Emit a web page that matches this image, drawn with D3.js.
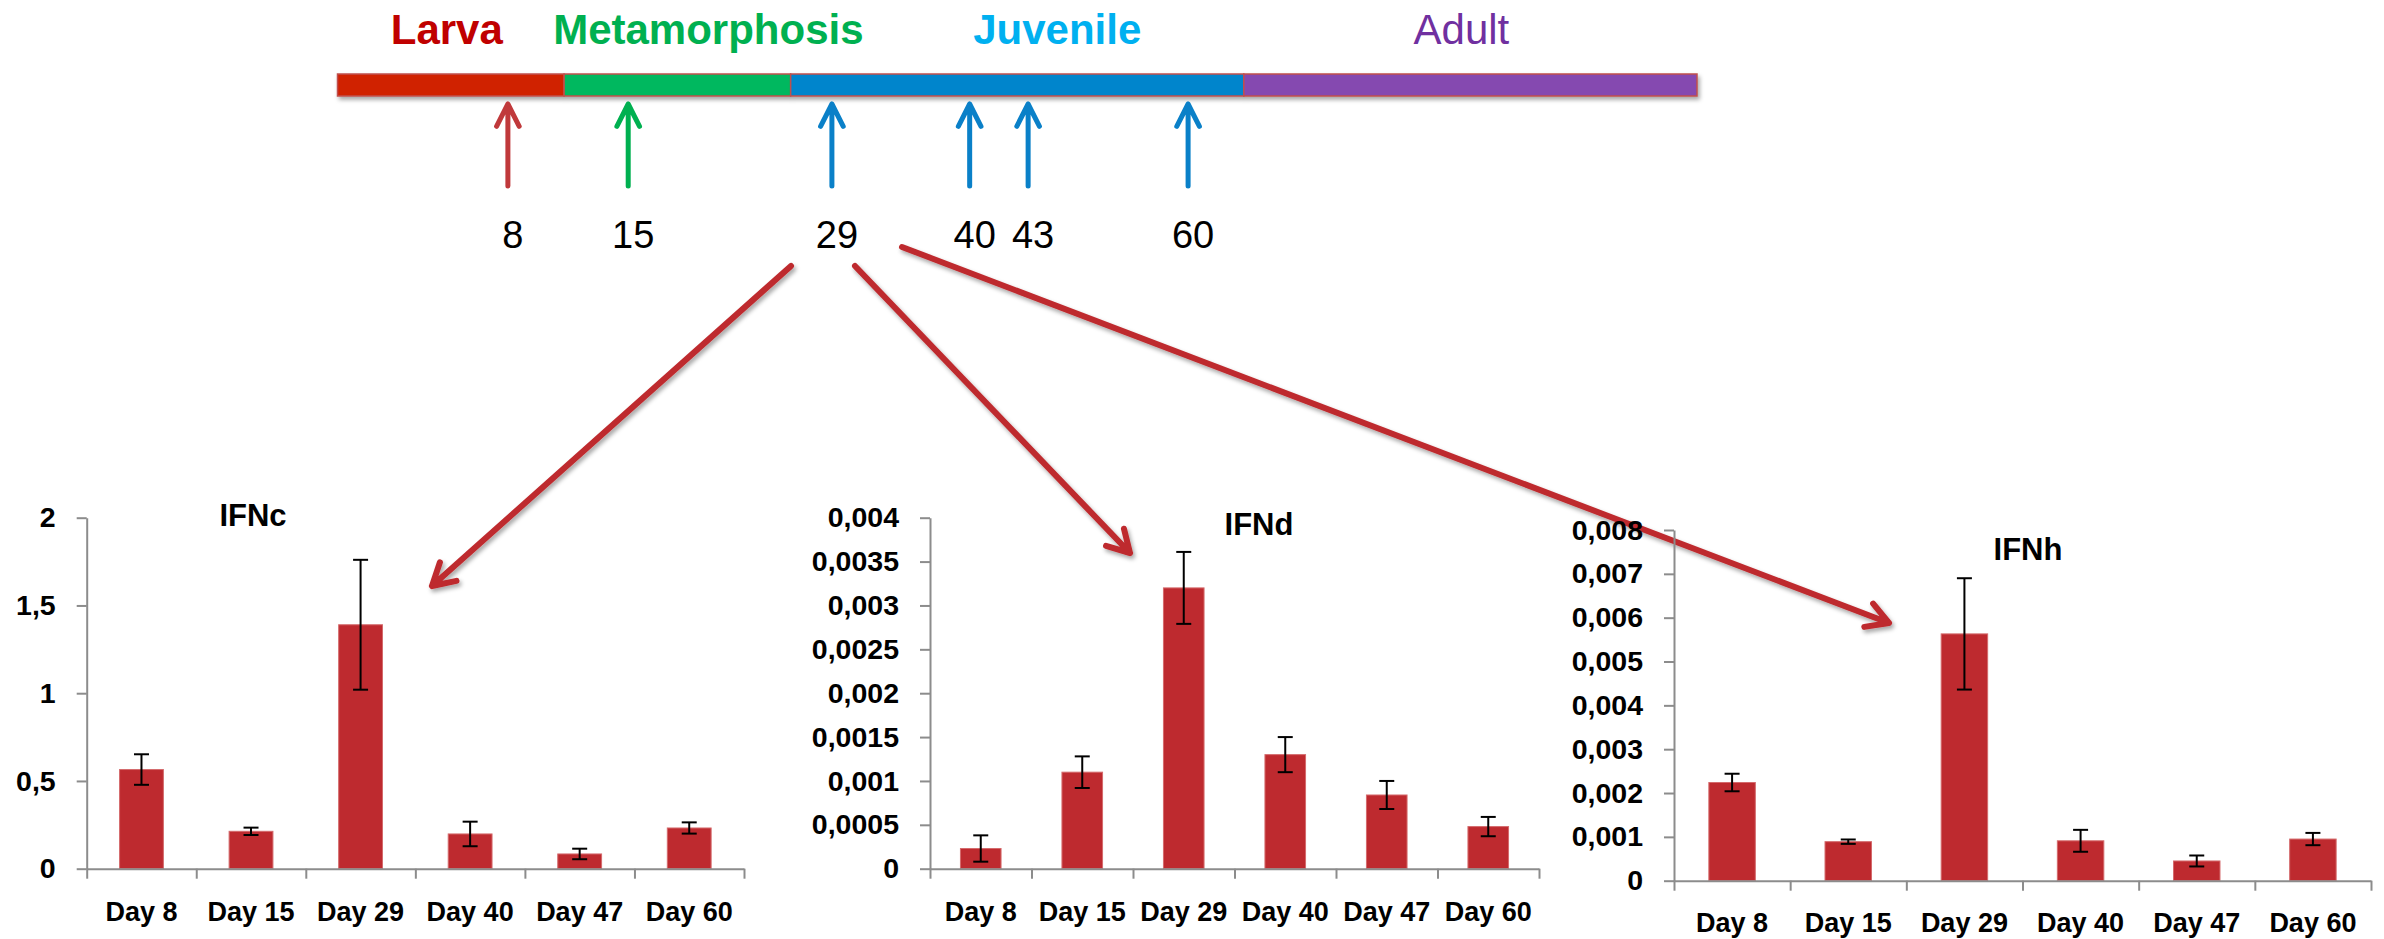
<!DOCTYPE html>
<html><head><meta charset="utf-8">
<script src="https://cdn.jsdelivr.net/npm/d3@7"></script>
<style>body{margin:0;background:#fff}svg{display:block}</style>
</head><body><svg id="c" width="2384" height="939"></svg>
<script>
// ---------------- data ----------------
const categories = ["Day 8","Day 15","Day 29","Day 40","Day 47","Day 60"];
const ifncValues = [0.565, 0.213, 1.39, 0.198, 0.084, 0.232];
const ifncErrors = [0.087, 0.021, 0.37, 0.07, 0.03, 0.032];
const ifndValues = [0.00023, 0.0011, 0.0032, 0.0013, 0.00084, 0.00048];
const ifndErrors = [0.00015, 0.00018, 0.00041, 0.0002, 0.00016, 0.00011];
const ifnhValues = [0.00224, 0.00089, 0.00563, 0.00091, 0.00045, 0.00095];
const ifnhErrors = [0.0002, 0.00005, 0.00127, 0.00025, 0.000125, 0.00014];
const ifncTicks = [0, 0.5, 1, 1.5, 2];
const ifndTicks = [0, 0.0005, 0.001, 0.0015, 0.002, 0.0025, 0.003, 0.0035, 0.004];
const ifnhTicks = [0, 0.001, 0.002, 0.003, 0.004, 0.005, 0.006, 0.007, 0.008];
const chartTitles = ["IFNc", "IFNd", "IFNh"];
const stages = ["Larva", "Metamorphosis", "Juvenile", "Adult"];
const stageSpan = [1, 1, 2, 2];               // schematic length of each stage (sixths)
const sampleDays = [8, 15, 29, 40, 43, 60];
const sampleDayPos = [0.752, 1.283, 2.182, 2.79, 3.048, 3.754]; // schematic position on the timeline
const sampleStage = [0, 1, 2, 2, 2, 2];

// ---------------- style / layout ----------------
const stageBarColors = ["#D02000", "#00B85E", "#0085CC", "#8549B0"];
const stageTextColors = ["#C00000", "#00B050", "#00B0F0", "#7030A0"];
const stageTextWeight = ["bold", "bold", "bold", "normal"];
const stageTextSize = [42, 42, 42, 42];
const stageTextShift = [-4, 31, 40, -9];
const arrowColors = ["#C0393B", "#00B050", "#0A80C8"];
const barColor = "#BE2A2F";
const axisColor = "#8C8C8C";
const font = "'Liberation Sans', Arial, sans-serif";

const svg = d3.select("#c");
const defs = svg.append("defs");
const sh = defs.append("filter").attr("id", "shadow").attr("x", "-20%").attr("y", "-20%").attr("width", "140%").attr("height", "160%");
sh.append("feDropShadow").attr("dx", 2).attr("dy", 3).attr("stdDeviation", 2).attr("flood-color", "#000").attr("flood-opacity", 0.35);

// ---------------- timeline ----------------
const tl = d3.scaleLinear().domain([0, 6]).range([337.5, 1697]);
const starts = d3.cumsum([0, ...stageSpan]);
const tg = svg.append("g");
tg.append("g").attr("filter", "url(#shadow)")
  .selectAll("rect").data(stages).join("rect")
  .attr("x", (d, i) => tl(starts[i])).attr("y", 74)
  .attr("width", (d, i) => tl(starts[i] + stageSpan[i]) - tl(starts[i])).attr("height", 22)
  .attr("fill", (d, i) => stageBarColors[i])
  .attr("stroke", "#C0504D").attr("stroke-width", 1.5);

tg.selectAll("text.stage").data(stages).join("text").attr("class", "stage")
  .attr("x", (d, i) => tl(starts[i] + stageSpan[i] / 2) + stageTextShift[i])
  .attr("y", 44)
  .attr("text-anchor", "middle")
  .attr("font-family", font)
  .attr("font-size", (d, i) => stageTextSize[i])
  .attr("font-weight", (d, i) => stageTextWeight[i])
  .attr("fill", (d, i) => stageTextColors[i])
  .text(d => d);

function openArrow(g, x1, y1, x2, y2, color, w, headLen, headAng) {
  const a = Math.atan2(y1 - y2, x1 - x2);
  const p = d3.path();
  p.moveTo(x1, y1); p.lineTo(x2, y2);
  p.moveTo(x2 + headLen * Math.cos(a + headAng), y2 + headLen * Math.sin(a + headAng));
  p.lineTo(x2, y2);
  p.lineTo(x2 + headLen * Math.cos(a - headAng), y2 + headLen * Math.sin(a - headAng));
  g.append("path").attr("d", p.toString()).attr("fill", "none")
    .attr("stroke", color).attr("stroke-width", w)
    .attr("stroke-linecap", "round").attr("stroke-linejoin", "round");
}

sampleDays.forEach((d, i) => {
  const x = tl(sampleDayPos[i]);
  openArrow(tg, x, 186, x, 104, arrowColors[Math.min(sampleStage[i], 2)], 5, 25, 0.47);
  tg.append("text").attr("x", x + 5).attr("y", 248).attr("text-anchor", "middle")
    .attr("font-family", font).attr("font-size", 38).attr("fill", "#000").text(d);
});

// big annotation arrows from day 29 to each chart
const bigArrows = [[791, 266, 432, 586], [855, 266, 1130, 553], [902, 247, 1889, 623]];
const ag = svg.append("g").attr("filter", "url(#shadow)");
bigArrows.forEach(a => openArrow(ag, a[0], a[1], a[2], a[3], "#BE2A2E", 6, 25, 0.52));

// ---------------- bar charts ----------------
const fmt = v => String(+v.toFixed(6)).replace(".", ",");
const charts = [
  {values: ifncValues, errors: ifncErrors, ticks: ifncTicks, title: chartTitles[0],
   x0: 86.7, x1: 744, yTop: 517.7, yZero: 868.7, tx: 253, ty: 526, lab: 52},
  {values: ifndValues, errors: ifndErrors, ticks: ifndTicks, title: chartTitles[1],
   x0: 930, x1: 1539, yTop: 517.7, yZero: 868.7, tx: 1259, ty: 535, lab: 52},
  {values: ifnhValues, errors: ifnhErrors, ticks: ifnhTicks, title: chartTitles[2],
   x0: 1674, x1: 2371, yTop: 530, yZero: 880.7, tx: 2028, ty: 560, lab: 51.5}
];

charts.forEach(c => {
  const g = svg.append("g");
  const y = d3.scaleLinear().domain([0, d3.max(c.ticks)]).range([c.yZero, c.yTop]);
  const x = d3.scaleBand().domain(categories).range([c.x0, c.x1]).paddingInner(0.6).paddingOuter(0.3);
  const xb = d3.scaleLinear().domain([0, categories.length]).range([c.x0, c.x1]);

  // bars
  g.selectAll("rect.bar").data(c.values).join("rect").attr("class", "bar")
    .attr("x", (d, i) => x(categories[i])).attr("width", x.bandwidth())
    .attr("y", d => y(d)).attr("height", d => y(0) - y(d))
    .attr("fill", barColor).attr("stroke", "#D46A6C").attr("stroke-width", 1);

  // y axis
  const ya = g.append("g").attr("transform", `translate(${c.x0},0)`)
    .call(d3.axisLeft(y).tickValues(c.ticks).tickSize(10).tickSizeOuter(0).tickPadding(21).tickFormat(fmt));
  // x axis (category boundaries)
  const xa = g.append("g").attr("transform", `translate(0,${c.yZero})`)
    .call(d3.axisBottom(xb).tickValues(d3.range(categories.length + 1)).tickSize(10).tickSizeOuter(0).tickFormat(""));
  [ya, xa].forEach(a => {
    a.select(".domain").attr("stroke", axisColor).attr("stroke-width", 2);
    a.selectAll(".tick line").attr("stroke", axisColor).attr("stroke-width", 2);
  });
  ya.selectAll(".tick text").attr("font-family", font).attr("font-size", 28.5)
    .attr("font-weight", "bold").attr("fill", "#000");

  // x labels
  g.selectAll("text.xl").data(categories).join("text").attr("class", "xl")
    .attr("x", d => x(d) + x.bandwidth() / 2).attr("y", c.yZero + c.lab)
    .attr("text-anchor", "middle").attr("font-family", font).attr("font-size", 27)
    .attr("font-weight", "bold").attr("fill", "#000").text(d => d);

  // error bars
  const eb = g.append("g").attr("stroke", "#000").attr("stroke-width", 2);
  c.values.forEach((v, i) => {
    const cx = x(categories[i]) + x.bandwidth() / 2;
    const yh = y(v + c.errors[i]), yl = y(v - c.errors[i]);
    eb.append("line").attr("x1", cx).attr("x2", cx).attr("y1", yh).attr("y2", yl);
    eb.append("line").attr("x1", cx - 7.5).attr("x2", cx + 7.5).attr("y1", yh).attr("y2", yh);
    eb.append("line").attr("x1", cx - 7.5).attr("x2", cx + 7.5).attr("y1", yl).attr("y2", yl);
  });

  // title
  g.append("text").attr("x", c.tx).attr("y", c.ty).attr("text-anchor", "middle")
    .attr("font-family", font).attr("font-size", 31).attr("font-weight", "bold")
    .attr("fill", "#000").text(c.title);
});
</script></body></html>
